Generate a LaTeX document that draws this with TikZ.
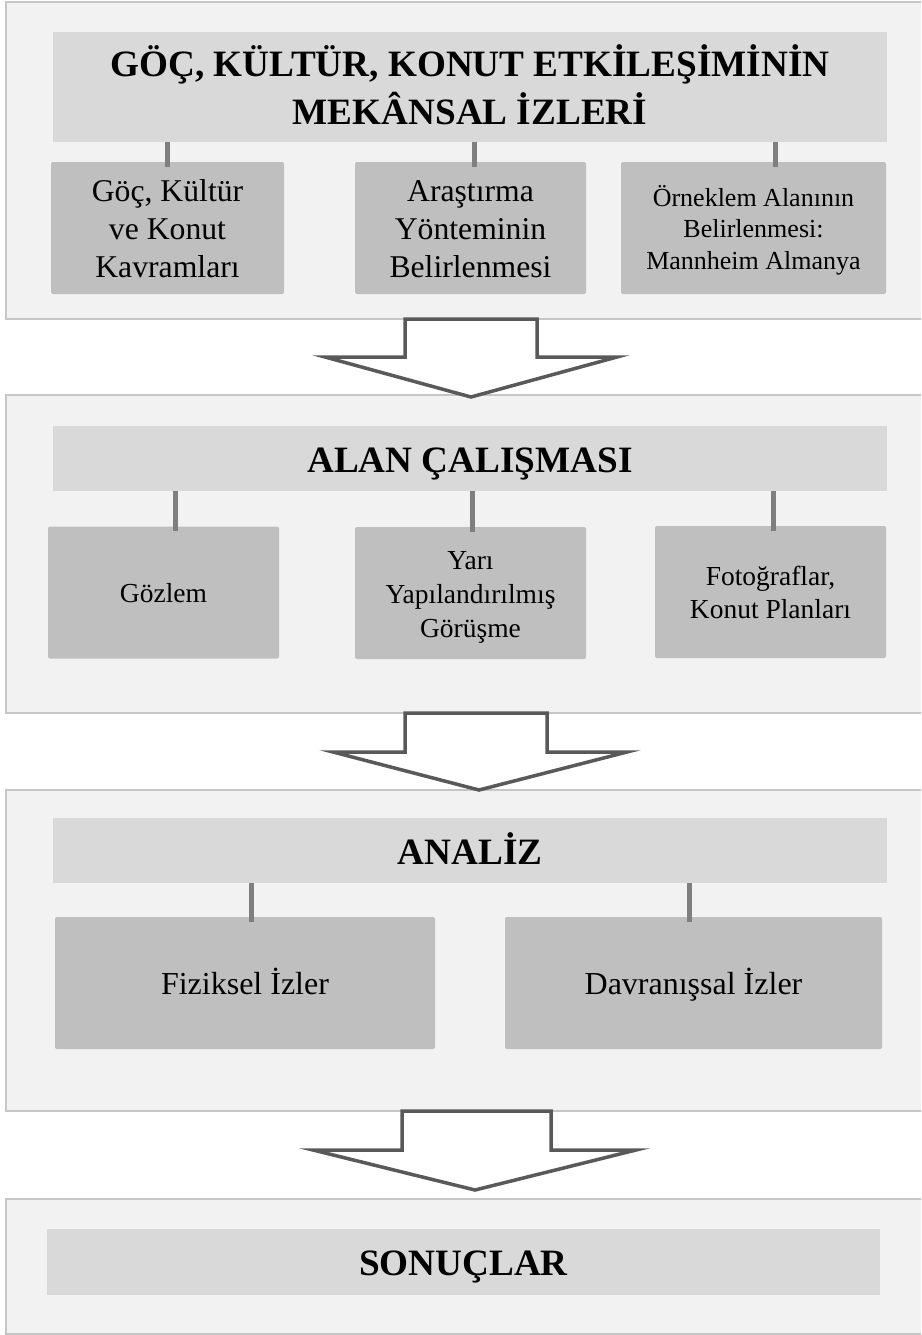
\documentclass[tikz,border=0pt]{standalone}
\usepackage{fontspec}
\setmainfont{Liberation Serif}
\usepackage{tikz}
\definecolor{panelgray}{HTML}{F2F2F2}
\definecolor{panelline}{HTML}{C6C6C6}
\definecolor{headgray}{HTML}{D9D9D9}
\definecolor{boxgray}{HTML}{BFBFBF}
\definecolor{linkgray}{HTML}{7F7F7F}
\definecolor{arrowgray}{HTML}{595959}
% keeps the text of a box on the same baseline, whatever its letters
\newcommand{\boxstrut}{\rule[-0.22em]{0pt}{1.18em}}

\tikzset{
  panel/.style={draw=panelline,line width=1.5pt,fill=panelgray,
    minimum width=920pt,inner sep=0pt},
  headbox/.style={fill=headgray,inner sep=0pt,align=center,
    minimum width=834pt,font=\fontsize{37.2}{48}\selectfont\bfseries},
  itembox/.style={fill=boxgray,rounded corners=2pt,inner sep=0pt,
    align=center,minimum height=132pt},
  link/.style={linkgray,line width=5pt},
  bigarrow/.style={draw=arrowgray,fill=white,line width=3.5pt}
}

\begin{document}
\begin{tikzpicture}[x=1pt,y=-1pt]
  \useasboundingbox (0,0) rectangle (921,1335);
  \clip (0,0) rectangle (921,1335);

  % panels
  \node[panel,minimum height=317pt] (p1) at (466,160.5) {};
  \node[panel,minimum height=318pt] (p2) at (466,554) {};
  \node[panel,minimum height=321pt] (p3) at (466,950.5) {};
  \node[panel,minimum height=135pt] (p4) at (466,1266.5) {};

  % first panel
  \node[headbox,minimum height=110pt] (t1) at (470,87)
    {\boxstrut GÖÇ, KÜLTÜR, KONUT ETKİLEŞİMİNİN\\MEKÂNSAL İZLERİ\boxstrut};
  \node[itembox,minimum width=233pt,font=\fontsize{31.7}{38}\selectfont]
    (a1) at (167.5,228) {\boxstrut Göç, Kültür\\ve Konut\\Kavramları\boxstrut};
  \node[itembox,minimum width=231pt,font=\fontsize{31.7}{38}\selectfont]
    (b1) at (470.5,228) {\boxstrut Araştırma\\Yönteminin\\Belirlenmesi\boxstrut};
  \node[itembox,minimum width=265pt,font=\fontsize{26}{31.5}\selectfont]
    (c1) at (753.5,228)
    {\boxstrut Örneklem Alanının\\Belirlenmesi:\\Mannheim Almanya\boxstrut};
  \foreach \n/\s in {a1/0,b1/3.5,c1/21.5}
    \draw[link] ([xshift=\s pt]\n.north |- t1.south)
      -- ([xshift=\s pt,yshift=-5pt]\n.north);

  % second panel
  \node[headbox,minimum height=65pt] (t2) at (470,458.5)
    {\boxstrut ALAN ÇALIŞMASI};
  \node[itembox,minimum width=231pt,font=\fontsize{27.5}{34}\selectfont]
    (a2) at (163.5,592.5) {\boxstrut Gözlem};
  \node[itembox,minimum width=231pt,font=\fontsize{27.5}{34}\selectfont]
    (b2) at (470.5,593) {\boxstrut Yarı\\Yapılandırılmış\\Görüşme\boxstrut};
  \node[itembox,minimum width=231pt,font=\fontsize{27.5}{33}\selectfont]
    (c2) at (770.5,592) {\boxstrut Fotoğraflar,\\Konut Planları\boxstrut};
  \foreach \n/\s in {a2/11.5,b2/1.5,c2/2.5}
    \draw[link] ([xshift=\s pt]\n.north |- t2.south)
      -- ([xshift=\s pt,yshift=-5pt]\n.north);

  % third panel
  \node[headbox,minimum height=65pt] (t3) at (470,850.5) {\boxstrut ANALİZ};
  \node[itembox,minimum width=380pt,font=\fontsize{32}{38}\selectfont]
    (a3) at (245,983) {\boxstrut Fiziksel İzler};
  \node[itembox,minimum width=377pt,font=\fontsize{32}{38}\selectfont]
    (b3) at (693.5,983) {\boxstrut Davranışsal İzler};
  \foreach \n/\s in {a3/6,b3/-4.5}
    \draw[link] ([xshift=\s pt]\n.north |- t3.south)
      -- ([xshift=\s pt,yshift=-5pt]\n.north);

  % last panel
  \node[headbox,minimum width=833pt,minimum height=66pt] (t4) at (463.5,1262)
    {\boxstrut SONUÇLAR};

  % block arrows between the panels
  \draw[bigarrow] (405,319) -- (405,357) -- (325,357) -- (471,397)
    -- (617,357) -- (537,357) -- (537,319) -- cycle;
  \draw[bigarrow] (405,713) -- (405,752) -- (333,752) -- (479,790)
    -- (627,752) -- (547,752) -- (547,713) -- cycle;
  \draw[bigarrow] (402,1111) -- (402,1150) -- (313,1150) -- (475,1190)
    -- (636,1150) -- (551,1150) -- (551,1111) -- cycle;
\end{tikzpicture}
\end{document}
